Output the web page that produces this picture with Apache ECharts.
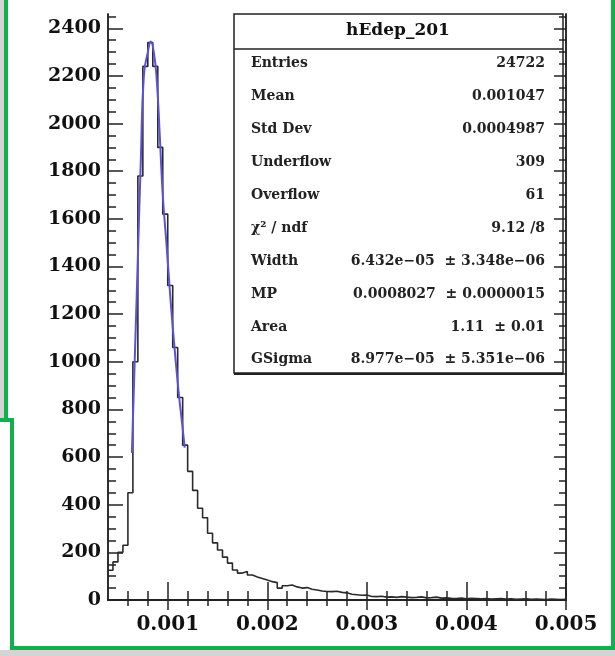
<!DOCTYPE html>
<html>
<head>
<meta charset="utf-8">
<script src="https://cdn.jsdelivr.net/npm/echarts@6/dist/echarts.min.js"></script>
<style>
body{margin:0;background:#d9d9d9;}
#main{width:615px;height:656px;}
</style>
</head>
<body>
<div id="main"></div>
<script>
// histogram hEdep_201, bins of 5e-05 starting at 0.0004
var binStart = 0.0004;
var binWidth = 0.00005;
var counts = [125,160,200,230,450,1000,1780,2240,2340,2240,
  1900,1620,1320,1060,850,650,540,460,385,345,
  280,240,210,180,155,126,113,120,105,97,
  90,84,77,73,50,60,63,55,50,52,
  45,42,38,36,35,37,32,30,24,22,
  20,21,15,14,16,12,13,11,14,12,
  10,11,13,9,10,12,8,9,7,6,
  8,5,7,6,5,6,4,5,6,4,
  5,3,4,5,3,4,3,2,4,3,
  2,3];

// fit curve
var fitX = [0.00064,0.00069,0.00073,0.00076,0.00080,0.00083,0.00086,0.00089,0.00092,0.00095,0.00099,0.00103,0.00107,0.00111,0.00115,0.00117];
var fitY = [617,1300,1850,2200,2300,2345,2300,2180,1950,1700,1480,1250,1050,870,720,640];

var xMajor = [0.001,0.002,0.003,0.004,0.005];
var xMinor = [0.0006,0.0008,0.0012,0.0014,0.0016,0.0018,0.0022,0.0024,0.0026,0.0028,0.0032,0.0034,0.0036,0.0038,0.0042,0.0044,0.0046,0.0048];
var yMajor = [0,200,400,600,800,1000,1200,1400,1600,1800,2000,2200,2400];
var yMinor = [50,100,150,250,300,350,450,500,550,650,700,750,850,900,950,1050,1100,1150,1250,1300,1350,1450,1500,1550,1650,1700,1750,1850,1900,1950,2050,2100,2150,2250,2300,2350,2450];

var statNames = ['Entries','Mean','Std Dev','Underflow','Overflow','\u03c7\u00b2 / ndf','Width','MP','Area','GSigma'];
var statValues = ['24722','0.001047','0.0004987','309','61','9.12 /8',
  '6.432e\u221205  \u00b1 3.348e\u221206','0.0008027  \u00b1 0.0000015','1.11  \u00b1 0.01','8.977e\u221205  \u00b1 5.351e\u221206'];

var histData = [];
for (var i = 0; i < counts.length; i++) {
  histData.push([binStart + i * binWidth, counts[i]]);
}
histData.push([binStart + counts.length * binWidth, counts[counts.length - 1]]);

var fitData = fitX.map(function (x, i) { return [x, fitY[i]]; });

var font = '"DejaVu Serif", "Liberation Serif", serif';
var xMin = 0.0004, xMax = 0.005, yMin = 0, yMax = 2460;

function xAx(pos, ticks, len, labels) {
  return {
    type: 'value', position: pos, min: xMin, max: xMax,
    axisLine: { show: true, lineStyle: { color: '#222', width: 1.5 } },
    splitLine: { show: false },
    axisTick: { show: true, inside: true, length: len, customValues: ticks, lineStyle: { color: '#222', width: 1.5 } },
    axisLabel: labels ? { show: true, customValues: xMajor, margin: 15, fontFamily: font, fontWeight: 'bold', fontSize: 20, color: '#111',
      formatter: function (v) { return String(v); } } : { show: false }
  };
}
function yAx(pos, ticks, len, labels) {
  return {
    type: 'value', position: pos, min: yMin, max: yMax,
    axisLine: { show: true, lineStyle: { color: '#222', width: 1.5 } },
    splitLine: { show: false },
    axisTick: { show: true, inside: true, length: len, customValues: ticks, lineStyle: { color: '#222', width: 1.5 } },
    axisLabel: labels ? { show: true, customValues: yMajor, margin: 7, fontFamily: font, fontWeight: 'bold', fontSize: 19, color: '#111',
      formatter: function (v) { return String(v); } } : { show: false }
  };
}

var graphics = [
  // grey outside + green frame
  { type: 'rect', shape: { x: 0, y: 0, width: 4, height: 418 }, style: { fill: '#d4d4d4' } },
  { type: 'rect', shape: { x: 0, y: 650, width: 615, height: 6 }, style: { fill: '#d4d4d4' } },
  { type: 'polyline', shape: { points: [[6, 0], [6, 420], [0, 420]] }, style: { stroke: '#12b04c', lineWidth: 4, fill: null } },
  { type: 'polyline', shape: { points: [[0, 420], [12, 420], [12, 648], [613, 648], [613, 0]] }, style: { stroke: '#12b04c', lineWidth: 4, fill: null } },
  // stats box
  { type: 'rect', shape: { x: 234, y: 14, width: 329, height: 359 }, style: { fill: 'rgba(255,255,255,0)', stroke: '#222', lineWidth: 1.5 } },
  { type: 'line', shape: { x1: 234, y1: 374, x2: 563, y2: 374 }, style: { stroke: '#222', lineWidth: 2 } },
  { type: 'line', shape: { x1: 234, y1: 49, x2: 563, y2: 49 }, style: { stroke: '#222', lineWidth: 1.5 } },
  { type: 'text', x: 398, y: 31, style: { text: 'hEdep_201', font: 'bold 17px ' + font, fill: '#111', align: 'center', verticalAlign: 'middle' } }
];
var rowY = [63, 96, 129, 162, 195, 228, 261, 294, 327, 359];
statNames.forEach(function (n, i) {
  graphics.push({ type: 'text', x: 251, y: rowY[i], style: { text: n, font: 'bold 14px ' + font, fill: '#222', verticalAlign: 'middle' } });
  graphics.push({ type: 'text', x: 545, y: rowY[i], style: { text: statValues[i], font: 'bold 14px ' + font, fill: '#222', align: 'right', verticalAlign: 'middle' } });
});

var myChart = echarts.init(document.getElementById('main'));
myChart.setOption({
  backgroundColor: '#ffffff',
  animation: false,
  grid: { left: 108, top: 14, right: 49, bottom: 56, containLabel: false },
  xAxis: [
    xAx('bottom', xMajor, 18, true),
    xAx('bottom', xMinor, 9, false),
    xAx('top', xMajor, 10, false),
    xAx('top', xMinor, 6, false)
  ],
  yAxis: [
    yAx('left', yMajor, 15, true),
    yAx('left', yMinor, 8, false),
    yAx('right', yMajor, 12, false),
    yAx('right', yMinor, 7, false)
  ],
  series: [
    {
      type: 'line', name: 'hEdep_201', data: histData, step: 'end', showSymbol: false, symbol: 'none',
      xAxisIndex: 0, yAxisIndex: 0,
      lineStyle: { color: '#2a2a2a', width: 1.6 }
    },
    {
      type: 'line', name: 'fit', data: fitData, smooth: true, showSymbol: false, symbol: 'none',
      xAxisIndex: 0, yAxisIndex: 0, z: 3,
      lineStyle: { color: '#5a52d8', width: 2 }
    }
  ],
  graphic: graphics
});
</script>
</body>
</html>
